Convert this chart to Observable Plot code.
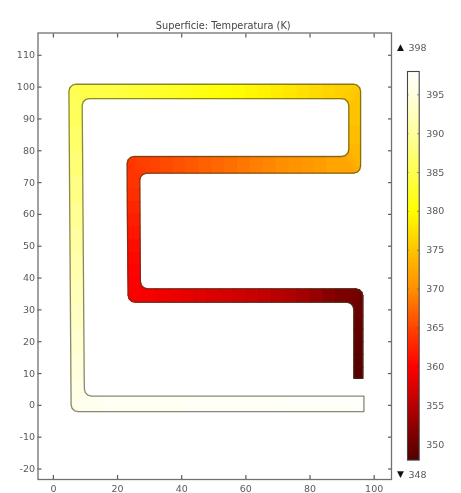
<!DOCTYPE html>
<html>
<head>
<meta charset="utf-8">
<script src="https://cdn.jsdelivr.net/npm/d3@7"></script>
<script src="https://cdn.jsdelivr.net/npm/@observablehq/plot@0.6"></script>
<style>
html,body{margin:0;padding:0;background:#fff;}
#chart{position:relative;width:461px;height:493px;overflow:hidden;}
#chart svg{position:absolute;top:0;overflow:visible;background:transparent;filter:blur(.35px);}
</style>
</head>
<body>
<div id="chart"></div>
<script>
const titleText = "Superficie: Temperatura (K)";
const xTicks = [0, 20, 40, 60, 80, 100];
const yTicks = [-20, -10, 0, 10, 20, 30, 40, 50, 60, 70, 80, 90, 100, 110];
const barTicks = [350, 355, 360, 365, 370, 375, 380, 385, 390, 395];
const maxLabel = "398";
const minLabel = "348";
const colorStops = [348, 352, 356, 360, 365, 370, 375, 380, 385, 390, 395, 398];
const colorValues = ["#520000", "#8a0000", "#c80000", "#ff0000", "#ff4500", "#ff9000", "#ffc400", "#ffff00", "#ffff50", "#ffff9c", "#ffffe0", "#ffffff"];

// The channel read station by station: both walls (x, y) and the temperature there
const sideAX = [96.8,70,40,15,
  7.72,6.62,5.81,5.52,
  5.46,5.41,5.35,5.3,5.24,5.19,5.13,5.08,5.02,4.97,4.91,
  4.85,5.14,5.95,7.05,
  16,20,24,28,32,36,40,44,48,52,56,60,64,68,72,76,80,84,88,
  93.56,94.66,95.47,95.76,
  95.76,95.76,
  95.76,95.47,94.66,93.56,
  85,81,77,73,69,65,61,57,53,49,45,41,37,33,30,
  29.12,28.02,27.21,26.92,
  26.94,26.96,26.98,27,27.03,27.05,27.07,27.08,
  27.14,27.43,28.24,29.34,
  32,36,40,44,48,52,56,60,64,68,72,76,80,84,88,
  94.27,95.37,96.18,96.47,
  96.47,96.47,96.47,96.47,96.47,96.47];
const sideAY = [-2,-2,-2,-2,
  -2,-1.71,-0.9,0.2,
  8,16,24,32,40,48,56,64,72,80,88,
  98.7,99.8,100.61,100.9,
  100.9,100.9,100.9,100.9,100.9,100.9,100.9,100.9,100.9,100.9,100.9,100.9,100.9,100.9,100.9,100.9,100.9,100.9,100.9,
  100.9,100.61,99.8,98.7,
  88,82,
  75.16,74.07,73.25,72.96,
  72.96,72.96,72.96,72.96,72.96,72.96,72.96,72.96,72.96,72.96,72.96,72.96,72.96,72.96,72.96,
  72.96,72.67,71.86,70.76,
  68,64,60,56,52,48,44,41,
  38.8,37.71,36.89,36.6,
  36.6,36.6,36.6,36.6,36.6,36.6,36.6,36.6,36.6,36.6,36.6,36.6,36.6,36.6,36.6,
  36.6,36.31,35.5,34.4,
  28,24,20,16,12,8.5];
const sideBX = [96.8,70,40,15,
  11.87,10.77,9.96,9.67,
  9.61,9.55,9.49,9.43,9.38,9.32,9.26,9.2,9.15,9.09,9.03,
  8.97,9.26,10.07,11.17,
  16,20,24,28,32,36,40,44,48,52,56,60,64,68,72,76,80,84,88,
  89.9,91,91.81,92.1,
  92.1,92.1,
  92.1,91.81,91,89.9,
  85,81,77,73,69,65,61,57,53,49,45,41,37,33,30,
  25.2,24.1,23.29,23,
  23.03,23.05,23.07,23.1,23.13,23.17,23.2,23.22,
  23.3,23.59,24.4,25.5,
  32,36,40,44,48,52,56,60,64,68,72,76,80,84,88,
  91.47,92.57,93.38,93.67,
  93.67,93.67,93.67,93.67,93.67,93.67];
const sideBY = [2.9,2.9,2.9,2.9,
  2.9,3.19,4,5.1,
  8,16,24,32,40,48,56,64,72,80,88,
  94.2,95.3,96.11,96.4,
  96.4,96.4,96.4,96.4,96.4,96.4,96.4,96.4,96.4,96.4,96.4,96.4,96.4,96.4,96.4,96.4,96.4,96.4,96.4,
  96.4,96.11,95.3,94.2,
  88,82,
  80.4,79.3,78.49,78.2,
  78.2,78.2,78.2,78.2,78.2,78.2,78.2,78.2,78.2,78.2,78.2,78.2,78.2,78.2,78.2,
  78.2,77.91,77.1,76,
  68,64,60,56,52,48,44,41,
  34.6,33.51,32.69,32.4,
  32.4,32.4,32.4,32.4,32.4,32.4,32.4,32.4,32.4,32.4,32.4,32.4,32.4,32.4,32.4,
  32.4,32.11,31.3,30.2,
  28,24,20,16,12,8.5];
const stationT = [397.6,397.4,397,396.6,
  396.4,396.2,396,395.8,
  395.2,394.4,393.5,392.6,391.7,390.8,389.9,389,388,387,386,
  385.4,385.2,385,384.8,
  384.4,384,383.6,383.2,382.8,382.4,382,381.5,381,380.5,380,379.6,379.2,378.7,378.2,377.7,377.2,376.7,376.2,
  375.8,375.6,375.4,375.2,
  374.8,374.2,
  373.4,373,372.6,372.3,
  371.5,371,370.6,370.1,369.6,369.1,368.6,368,367.5,367,366.6,366.1,365.6,365.1,364.8,
  364.5,364.3,364.1,363.9,
  363.6,363,362.4,361.8,361.2,360.6,360.2,360,
  359.8,359.7,359.6,359.5,
  359.2,358.8,358.4,358,357.6,357.2,356.8,356.3,355.8,355.3,354.8,354.2,353.3,352.3,351.2,
  350.8,350.5,350.3,350,
  349.6,349.3,349,348.7,348.5,348.3];

const colorScale = {type: "linear", domain: colorStops, range: colorValues};
const ink = "#5a5a5a";
const font = "'DejaVu Sans', sans-serif";

// One filled quad per step along the channel
const cells = d3.pairs(d3.range(stationT.length)).flatMap(([i, j], cell) => {
  const T = (stationT[i] + stationT[j]) / 2;
  return [
    {cell, T, x: sideAX[i], y: sideAY[i]},
    {cell, T, x: sideAX[j], y: sideAY[j]},
    {cell, T, x: sideBX[j], y: sideBY[j]},
    {cell, T, x: sideBX[i], y: sideBY[i]}
  ];
});
const outline = [
  ...sideAX.map((x, i) => ({x, y: sideAY[i]})),
  ...sideBX.map((x, i) => ({x, y: sideBY[i]})).reverse()
];

const main = Plot.plot({
  width: 461, height: 493,
  marginLeft: 37.5, marginRight: 70, marginTop: 32.5, marginBottom: 14,
  style: {fontFamily: font, background: "transparent"},
  x: {domain: [-4.8, 105.4], label: null},
  y: {domain: [-23.3, 117], label: null},
  color: colorScale,
  marks: [
    Plot.line(cells, {x: "x", y: "y", z: "cell", fill: "T", stroke: "T", strokeWidth: 1.2, curve: "linear-closed"}),
    Plot.line(outline, {x: "x", y: "y", curve: "linear-closed", stroke: "#3a3a20", strokeOpacity: 0.6, strokeWidth: 1.3}),
    Plot.axisX({anchor: "bottom", ticks: xTicks, tickFormat: d => d, label: null, tickSize: -4, tickPadding: 10, fontSize: 9.5, color: ink, strokeWidth: 1.2}),
    Plot.axisX({anchor: "top", ticks: xTicks, tickFormat: () => "", label: null, tickSize: -4, color: ink, strokeWidth: 1.2}),
    Plot.axisY({anchor: "left", ticks: yTicks, tickFormat: d => d, label: null, tickSize: -4, tickPadding: 7, fontSize: 9.5, color: ink, strokeWidth: 1.2}),
    Plot.axisY({anchor: "right", ticks: yTicks, tickFormat: () => "", label: null, tickSize: -4, color: ink, strokeWidth: 1.2}),
    Plot.frame({stroke: "#707070", strokeWidth: 1.3}),
    Plot.text([titleText], {text: d => d, frameAnchor: "top", dx: 8.5, dy: -11, fontSize: 9.8, fill: "#444"})
  ]
});

const barSteps = d3.range(348, 398, 0.125);
const bar = Plot.plot({
  width: 70, height: 493,
  marginLeft: 16, marginRight: 42.3, marginTop: 71, marginBottom: 33.4,
  style: {fontFamily: font, background: "transparent"},
  x: {domain: [0, 1], axis: null},
  y: {domain: [348, 398], label: null},
  color: colorScale,
  marks: [
    Plot.rect(barSteps, {x1: () => 0, x2: () => 1, y1: d => d, y2: d => d + 0.25, fill: d => d + 0.06, shapeRendering: "crispEdges"}),
    Plot.ruleY(barTicks, {x1: () => 0, x2: () => 0.13, stroke: "#333", strokeOpacity: 0.6}),
    Plot.ruleY(barTicks, {x1: () => 0.87, x2: () => 1, stroke: "#333", strokeOpacity: 0.6}),
    Plot.frame({stroke: "#444", strokeWidth: 1.1}),
    Plot.axisY({anchor: "right", ticks: barTicks, tickFormat: d => d, label: null, tickSize: 0, tickPadding: 7, fontSize: 9.5, color: ink}),
    Plot.text(["▲"], {x: () => 0, y: () => 398, text: d => d, dx: -7, dy: -24, fontSize: 9, fill: "#111"}),
    Plot.text(["▼"], {x: () => 0, y: () => 348, text: d => d, dx: -7, dy: 14.4, fontSize: 9, fill: "#111"}),
    Plot.text([maxLabel], {x: () => 0, y: () => 398, text: d => d, dx: 1, dy: -24, textAnchor: "start", fontSize: 9.5, fill: ink}),
    Plot.text([minLabel], {x: () => 0, y: () => 348, text: d => d, dx: 1, dy: 14.4, textAnchor: "start", fontSize: 9.5, fill: ink})
  ]
});
bar.style.left = "391px";
main.style.left = "0px";
const chart = document.getElementById("chart");
chart.append(main, bar);
</script>
</body>
</html>
